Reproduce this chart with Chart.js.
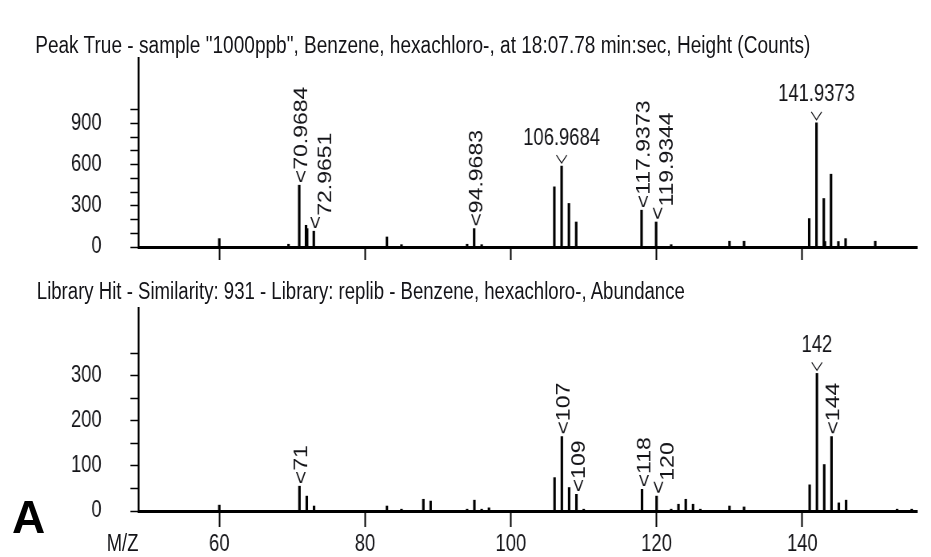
<!DOCTYPE html>
<html>
<head>
<meta charset="utf-8">
<script src="https://cdn.jsdelivr.net/npm/chart.js@4.4.0/dist/chart.umd.min.js"></script>
<style>
  html, body { margin: 0; padding: 0; background: #fff; width: 931px; height: 557px; overflow: hidden; }
  /* the whole spectrum page is drawn wide and squeezed to 80% horizontally */
  #stage { position: absolute; left: 0; top: 0; width: 1164px; height: 557px; transform: scaleX(0.8); transform-origin: 0 0; background: #fff; }
  canvas { position: absolute; left: 0; }
  .txt {
    position: absolute; white-space: nowrap; line-height: 1;
    font-family: 'Liberation Sans', Arial, sans-serif;
    font-size: 23px; color: #141418; transform-origin: 0 0;
  }
  #mzLabel { right: 991px; top: 532px; }
  #panelA { position: absolute; left: 12px; top: 494px; line-height: 1; font-family: 'Liberation Sans', Arial, sans-serif; font-weight: bold; font-size: 46px; color: #000; }
</style>
</head>
<body>
<div id="stage">
  <canvas id="peakChart" width="1164" height="270" style="top:0"></canvas>
  <canvas id="libChart" width="1164" height="287" style="top:270px"></canvas>
  <div class="txt" id="title1" style="left:44px; top:34px">Peak True - sample "1000ppb", Benzene, hexachloro-, at 18:07.78 min:sec, Height (Counts)</div>
  <div class="txt" id="title2" style="left:46px; top:280px">Library Hit - Similarity: 931 - Library: replib - Benzene, hexachloro-, Abundance</div>
  <div class="txt" id="mzLabel">M/Z</div>
</div>
<div id="panelA">A</div>
<script>
// m/z axis
const xMin = 48.9;
const xMax = 155.7;
const xTicks = [60, 80, 100, 120, 140];

// measured spectrum (Height, counts)
const peakMz = [60, 69.5, 70.9684, 71.9, 72.05, 72.9651, 83, 85, 94, 94.9683, 96,
  105.97, 106.9684, 107.97, 108.97, 117.9373, 119.9344, 122, 130, 132,
  140.94, 141.9373, 142.94, 143.1, 143.93, 144.94, 145.93, 150];
const peakCounts = [61, 20, 450, 158, 134, 115, 73, 17, 20, 134, 17,
  438, 589, 317, 182, 268, 182, 17, 42, 42,
  207, 904, 353, 40, 530, 40, 61, 42];
const peakYMax = 1376;
const peakYTicks = [0, 100, 200, 300, 400, 500, 600, 700, 800, 900, 1000];
const peakYLabels = [0, 300, 600, 900];
const peakLabelMz = [70.9684, 72.9651, 94.9683, 106.9684, 117.9373, 119.9344, 141.9373];
const peakLabelUpright = [false, false, false, true, false, false, true];

// library spectrum (Abundance)
const libMz = [60, 71, 72, 73, 83, 85, 88, 89, 94, 95, 96, 97,
  106, 107, 108, 109, 110, 118, 120, 122, 123, 124, 125, 126, 130, 132,
  141, 142, 143, 144, 145, 146, 153, 155];
const libAbundance = [13, 55, 33, 11, 11, 4, 26, 22, 4, 24, 4, 7,
  74, 165, 52, 37, 4, 48, 33, 4, 15, 26, 15, 4, 11, 9,
  58, 305, 103, 165, 18, 24, 4, 4];
const libYMax = 450;
const libYTicks = [0, 50, 100, 150, 200, 250, 300, 350];
const libYLabels = [0, 100, 200, 300];
const libLabelMz = [71, 107, 109, 118, 120, 142, 144];
const libLabelUpright = [false, false, false, false, false, true, false];

const FONT = "'Liberation Sans', Arial, sans-serif";
const INK = '#141418';

// stretch the panel titles to their line length
function fitWidth(id, width) {
  const el = document.getElementById(id);
  const w = el.getBoundingClientRect().width / 0.8;
  el.style.transform = 'scaleX(' + (width / w) + ')';
}
fitWidth('title1', 969);
fitWidth('title2', 810);

// annotations on labelled peaks: a "<" caret on the stick with the value rotated above it,
// or the value written level with a caret under it. A rotated value that would run into
// its neighbour is moved to the right of it, the caret staying on the stick.
const peakLabelPlugin = {
  id: 'peakLabels',
  afterDatasetsDraw(chart, args, opts) {
    const ctx = chart.ctx;
    const xs = chart.scales.x, ys = chart.scales.y;
    const pts = chart.data.datasets[0].data;
    const CAP = 17, GAP = 12.5, BASE = 10;
    let prev = null;
    ctx.save();
    ctx.fillStyle = INK;
    ctx.strokeStyle = INK;
    ctx.font = '23px ' + FONT;
    const caretLen = ctx.measureText('<').width;
    opts.mz.forEach((mz, i) => {
      const pt = pts.find(p => p.x === mz);
      const px = xs.getPixelForValue(mz);
      const py = ys.getPixelForValue(pt.y);
      const text = opts.format(mz);
      if (opts.upright[i]) {
        ctx.lineWidth = 1.2;
        ctx.beginPath();
        ctx.moveTo(px - 6.5, py - 11);
        ctx.lineTo(px, py - 3);
        ctx.lineTo(px + 6.5, py - 11);
        ctx.stroke();
        ctx.textAlign = 'center';
        ctx.textBaseline = 'alphabetic';
        ctx.fillText(text, px, py - 21.5);
        return;
      }
      const bottom = py - 2;
      const top = bottom - caretLen - ctx.measureText(text).width;
      let base = px + BASE;
      if (prev && top < prev.bottom && bottom > prev.top && base - CAP < prev.base + GAP) {
        base = prev.base + GAP + CAP;
      }
      ctx.save();
      ctx.translate(px, bottom);
      ctx.rotate(-Math.PI / 2);
      ctx.textAlign = 'left';
      ctx.textBaseline = 'alphabetic';
      ctx.fillText('<', 0, BASE);
      ctx.fillText(text, caretLen, BASE + (base - px - BASE));
      ctx.restore();
      prev = { base, top, bottom };
    });
    ctx.restore();
  }
};

function spectrumChart(canvasId, mz, values, cfg) {
  return new Chart(document.getElementById(canvasId), {
    type: 'bar',
    data: {
      datasets: [{
        data: mz.map((m, i) => ({ x: m, y: values[i] })),
        backgroundColor: '#000',
        borderWidth: 0,
        barThickness: 2.5
      }]
    },
    options: {
      responsive: false,
      animation: false,
      events: [],
      layout: { padding: { top: cfg.padTop, right: 18, left: 0, bottom: 0 } },
      plugins: {
        legend: { display: false },
        tooltip: { enabled: false },
        title: { display: false },
        peakLabels: { mz: cfg.labelMz, upright: cfg.upright, format: cfg.format }
      },
      scales: {
        x: {
          type: 'linear',
          min: xMin,
          max: xMax,
          offset: false,
          afterBuildTicks: ax => { ax.ticks = xTicks.map(v => ({ value: v })); },
          afterFit: ax => { ax.height = cfg.xHeight; ax.paddingLeft = 0; ax.paddingRight = 0; },
          grid: { drawOnChartArea: false, drawTicks: true, offset: false,
                  tickLength: cfg.xTickLength, tickWidth: 2, tickColor: '#000' },
          border: { display: true, color: '#000', width: 3 },
          ticks: { display: cfg.xLabels, autoSkip: false, maxRotation: 0, padding: 4,
                   color: INK, font: { family: FONT, size: 23 } }
        },
        y: {
          min: 0,
          max: cfg.yMax,
          afterBuildTicks: ax => { ax.ticks = cfg.yTicks.map(v => ({ value: v })); },
          afterFit: ax => { ax.width = 173; ax.paddingTop = 0; ax.paddingBottom = 0; },
          grid: { drawOnChartArea: false, drawTicks: true, tickLength: 10, tickWidth: 1.5, tickColor: '#000' },
          border: { display: true, color: '#000', width: 2.5 },
          ticks: {
            autoSkip: false, padding: 36, color: INK,
            font: { family: FONT, size: 23 },
            callback: v => cfg.yLabels.includes(v) ? String(v) : ''
          }
        }
      }
    },
    plugins: [peakLabelPlugin]
  });
}

spectrumChart('peakChart', peakMz, peakCounts, {
  padTop: 58, xHeight: 23, xTickLength: 13, xLabels: false,
  yMax: peakYMax, yTicks: peakYTicks, yLabels: peakYLabels,
  labelMz: peakLabelMz, upright: peakLabelUpright, format: m => m.toFixed(4)
});

spectrumChart('libChart', libMz, libAbundance, {
  padTop: 38, xHeight: 46, xTickLength: 16, xLabels: true,
  yMax: libYMax, yTicks: libYTicks, yLabels: libYLabels,
  labelMz: libLabelMz, upright: libLabelUpright, format: m => String(m)
});
</script>
</body>
</html>
